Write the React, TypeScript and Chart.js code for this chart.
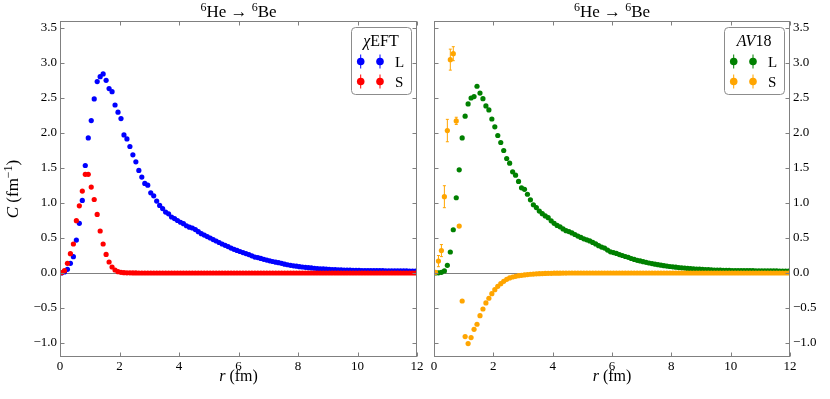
import React, { useEffect, useRef } from "react";
import { Chart, registerables } from "chart.js";

Chart.register(...registerables);

const FAMILY = '"Liberation Serif", "DejaVu Serif", serif';

// radial grid (fm)
const R = [
  0.05, 0.15, 0.25, 0.35, 0.45, 0.55, 0.65, 0.75, 0.85, 0.95,
  1.05, 1.15, 1.25, 1.35, 1.45, 1.55, 1.65, 1.75, 1.85, 1.95,
  2.05, 2.15, 2.25, 2.35, 2.45, 2.55, 2.65, 2.75, 2.85, 2.95,
  3.05, 3.15, 3.25, 3.35, 3.45, 3.55, 3.65, 3.75, 3.85, 3.95,
  4.05, 4.15, 4.25, 4.35, 4.45, 4.55, 4.65, 4.75, 4.85, 4.95,
  5.05, 5.15, 5.25, 5.35, 5.45, 5.55, 5.65, 5.75, 5.85, 5.95,
  6.05, 6.15, 6.25, 6.35, 6.45, 6.55, 6.65, 6.75, 6.85, 6.95,
  7.05, 7.15, 7.25, 7.35, 7.45, 7.55, 7.65, 7.75, 7.85, 7.95,
  8.05, 8.15, 8.25, 8.35, 8.45, 8.55, 8.65, 8.75, 8.85, 8.95,
  9.05, 9.15, 9.25, 9.35, 9.45, 9.55, 9.65, 9.75, 9.85, 9.95,
  10.05, 10.15, 10.25, 10.35, 10.45, 10.55, 10.65, 10.75, 10.85, 10.95,
  11.05, 11.15, 11.25, 11.35, 11.45, 11.55, 11.65, 11.75, 11.85, 11.95,
];

// chiEFT, L channel (blue)
const L_EFT = [
  0.0, 0.015, 0.052, 0.138, 0.233, 0.471, 0.709, 1.037, 1.536, 1.93,
  2.178, 2.487, 2.734, 2.805, 2.844, 2.753, 2.634, 2.59, 2.4, 2.297,
  2.206, 1.973, 1.916, 1.807, 1.688, 1.588, 1.465, 1.37, 1.279, 1.255,
  1.146, 1.103, 1.027, 0.965, 0.92, 0.87, 0.846, 0.8, 0.778, 0.75,
  0.725, 0.705, 0.675, 0.655, 0.643, 0.62, 0.59, 0.562, 0.542, 0.52,
  0.5, 0.478, 0.457, 0.436, 0.414, 0.395, 0.378, 0.356, 0.338, 0.322,
  0.307, 0.292, 0.277, 0.263, 0.246, 0.228, 0.22, 0.208, 0.195, 0.184,
  0.174, 0.164, 0.155, 0.147, 0.138, 0.126, 0.118, 0.11, 0.103, 0.097,
  0.091, 0.086, 0.081, 0.076, 0.072, 0.068, 0.064, 0.061, 0.058, 0.055,
  0.052, 0.05, 0.048, 0.046, 0.044, 0.042, 0.041, 0.04, 0.039, 0.038,
  0.037, 0.036, 0.036, 0.035, 0.035, 0.034, 0.034, 0.033, 0.033, 0.032,
  0.032, 0.031, 0.031, 0.03, 0.03, 0.029, 0.029, 0.028, 0.028, 0.027,
];

// chiEFT, S channel (red)
const S_EFT = [
  0.004, 0.033, 0.138, 0.276, 0.414, 0.747, 0.96, 1.17, 1.41, 1.41,
  1.227, 1.05, 0.837, 0.6, 0.414, 0.266, 0.157, 0.086, 0.043, 0.019,
  0.01, 0.005, 0.003, 0.002, 0.001, 0.001, 0.0, 0.0, 0.0, 0.0,
  0, 0, 0, 0, 0, 0, 0, 0, 0, 0,
  0, 0, 0, 0, 0, 0, 0, 0, 0, 0,
  0, 0, 0, 0, 0, 0, 0, 0, 0, 0,
  0, 0, 0, 0, 0, 0, 0, 0, 0, 0,
  0, 0, 0, 0, 0, 0, 0, 0, 0, 0,
  0, 0, 0, 0, 0, 0, 0, 0, 0, 0,
  0, 0, 0, 0, 0, 0, 0, 0, 0, 0,
  0, 0, 0, 0, 0, 0, 0, 0, 0, 0,
  0, 0, 0, 0, 0, 0, 0, 0, 0, 0,
];

// AV18, L channel (green)
const L_AV18 = [
  0.0, 0.003, 0.01, 0.03, 0.11, 0.3, 0.618, 1.075, 1.474, 1.93,
  2.24, 2.416, 2.5, 2.52, 2.668, 2.57, 2.49, 2.387, 2.33, 2.2,
  2.088, 1.964, 1.864, 1.75, 1.636, 1.569, 1.445, 1.398, 1.308, 1.217,
  1.195, 1.125, 1.045, 0.975, 0.935, 0.885, 0.848, 0.815, 0.79, 0.745,
  0.71, 0.68, 0.66, 0.63, 0.605, 0.592, 0.572, 0.55, 0.528, 0.508,
  0.488, 0.474, 0.458, 0.437, 0.415, 0.39, 0.37, 0.356, 0.328, 0.302,
  0.292, 0.279, 0.263, 0.25, 0.236, 0.224, 0.207, 0.194, 0.181, 0.172,
  0.162, 0.152, 0.143, 0.134, 0.126, 0.119, 0.112, 0.105, 0.099, 0.093,
  0.088, 0.083, 0.078, 0.074, 0.07, 0.066, 0.063, 0.06, 0.057, 0.054,
  0.051, 0.049, 0.047, 0.045, 0.043, 0.041, 0.04, 0.039, 0.038, 0.037,
  0.036, 0.036, 0.035, 0.035, 0.034, 0.034, 0.033, 0.033, 0.032, 0.032,
  0.031, 0.031, 0.03, 0.03, 0.029, 0.029, 0.028, 0.028, 0.027, 0.027,
];

// AV18, S channel (orange)
const S_AV18 = [
  0.01, 0.17, 0.32, 1.09, 2.035, 3.048, 3.133, 2.173, 0.67, -0.4,
  -0.908, -1.008, -0.922, -0.804, -0.732, -0.609, -0.514, -0.428, -0.361, -0.295,
  -0.238, -0.19, -0.152, -0.119, -0.09, -0.07, -0.057, -0.047, -0.038, -0.033,
  -0.027, -0.022, -0.018, -0.015, -0.012, -0.01, -0.008, -0.006, -0.005, -0.004,
  -0.003, -0.002, -0.002, -0.001, -0.001, 0, 0, 0, 0, 0,
  0, 0, 0, 0, 0, 0, 0, 0, 0, 0,
  0, 0, 0, 0, 0, 0, 0, 0, 0, 0,
  0, 0, 0, 0, 0, 0, 0, 0, 0, 0,
  0, 0, 0, 0, 0, 0, 0, 0, 0, 0,
  0, 0, 0, 0, 0, 0, 0, 0, 0, 0,
  0, 0, 0, 0, 0, 0, 0, 0, 0, 0,
  0, 0, 0, 0, 0, 0, 0, 0, 0, 0,
];

// AV18, S channel uncertainties (first points only)
const S_AV18_ERR = [0.02, 0.08, 0.086, 0.157, 0.16, 0.15, 0.1, 0.052, 0.02];

const X_TICKS = [0, 2, 4, 6, 8, 10, 12];
const X_TICK_LABELS = ["0", "2", "4", "6", "8", "10", "12"];
const Y_TICKS = [-1, -0.5, 0, 0.5, 1, 1.5, 2, 2.5, 3, 3.5];
const Y_TICK_LABELS = ["\u22121.0", "\u22120.5", "0.0", "0.5", "1.0", "1.5", "2.0", "2.5", "3.0", "3.5"];

const X_MIN = 0, X_MAX = 12, Y_MIN = -1.2, Y_MAX = 3.6;
const GRAY = "#808080";

type Part = { t: string; size: number; italic?: boolean; rise?: number };

const fontOf = (p: Part) => `${p.italic ? "italic " : ""}${p.size}px ${FAMILY}`;

function partsWidth(ctx: CanvasRenderingContext2D, parts: Part[]) {
  let w = 0;
  for (const p of parts) {
    ctx.font = fontOf(p);
    w += ctx.measureText(p.t).width;
  }
  return w;
}

function drawParts(ctx: CanvasRenderingContext2D, parts: Part[], cx: number, baseline: number) {
  const w = partsWidth(ctx, parts);
  let x = cx - w / 2;
  ctx.textAlign = "left";
  ctx.textBaseline = "alphabetic";
  ctx.fillStyle = "#000";
  for (const p of parts) {
    ctx.font = fontOf(p);
    ctx.fillText(p.t, x, baseline - (p.rise || 0));
    x += ctx.measureText(p.t).width;
  }
}

const TITLE: Part[] = [
  { t: "6", size: 12, rise: 6 },
  { t: "He", size: 17 },
  { t: " \u2192 ", size: 17 },
  { t: "6", size: 12, rise: 6 },
  { t: "Be", size: 17 },
];
const X_TITLE: Part[] = [
  { t: "r", size: 16, italic: true },
  { t: " (fm)", size: 16 },
];
const Y_TITLE: Part[] = [
  { t: "C", size: 17, italic: true },
  { t: " (fm", size: 17 },
  { t: "\u22121", size: 12, rise: 6 },
  { t: ")", size: 17 },
];
const LEG_EFT: Part[] = [
  { t: "\u03c7", size: 16, italic: true },
  { t: "EFT", size: 16 },
];
const LEG_AV18: Part[] = [
  { t: "AV", size: 16, italic: true },
  { t: "18", size: 16 },
];

type PanelProps = {
  width: number;
  left: number;
  side: "left" | "right";
  lData: number[];
  sData: number[];
  lColor: string;
  sColor: string;
  sErr?: number[];
  legendTitle: Part[];
};

function Panel({ width, left, side, lData, sData, lColor, sColor, sErr, legendTitle }: PanelProps) {
  const ref = useRef<HTMLCanvasElement>(null);

  useEffect(() => {
    const canvas = ref.current;
    if (!canvas) return;

    const plugin = {
      id: "mplFrame",
      beforeDatasetsDraw(chart: any) {
        const { ctx, chartArea: a, scales } = chart;
        const xs = scales.x, ys = scales.y;
        ctx.save();
        // zero line
        const y0 = Math.round(ys.getPixelForValue(0)) + 0.5;
        ctx.strokeStyle = GRAY;
        ctx.lineWidth = 1;
        ctx.beginPath();
        ctx.moveTo(a.left, y0);
        ctx.lineTo(a.right, y0);
        ctx.stroke();
        // error bars
        if (sErr) {
          ctx.strokeStyle = sColor;
          ctx.lineWidth = 1;
          for (let i = 0; i < sErr.length; i++) {
            const e = sErr[i];
            if (!e) continue;
            const px = xs.getPixelForValue(R[i]);
            const top = ys.getPixelForValue(sData[i] + e);
            const bot = ys.getPixelForValue(sData[i] - e);
            ctx.beginPath();
            ctx.moveTo(px, top);
            ctx.lineTo(px, bot);
            ctx.moveTo(px - 1.5, top);
            ctx.lineTo(px + 1.5, top);
            ctx.moveTo(px - 1.5, bot);
            ctx.lineTo(px + 1.5, bot);
            ctx.stroke();
          }
        }
        ctx.restore();
      },
      afterDraw(chart: any) {
        const { ctx, chartArea: a, scales } = chart;
        const xs = scales.x, ys = scales.y;
        ctx.save();
        // spines
        ctx.strokeStyle = GRAY;
        ctx.lineWidth = 1;
        const L = Math.round(a.left) + 0.5, Rt = Math.round(a.right) - 0.5;
        const T = Math.round(a.top) + 0.5, B = Math.round(a.bottom) - 0.5;
        ctx.strokeRect(L, T, Rt - L, B - T);
        // inward ticks
        const tl = 4;
        ctx.beginPath();
        for (const v of X_TICKS) {
          const px = Math.round(xs.getPixelForValue(v)) + 0.5;
          ctx.moveTo(px, B); ctx.lineTo(px, B - tl);
          ctx.moveTo(px, T); ctx.lineTo(px, T + tl);
        }
        for (const v of Y_TICKS) {
          const py = Math.round(ys.getPixelForValue(v)) + 0.5;
          ctx.moveTo(L, py); ctx.lineTo(L + tl, py);
          ctx.moveTo(Rt, py); ctx.lineTo(Rt - tl, py);
        }
        ctx.stroke();

        const cx = (a.left + a.right) / 2;
        // title
        drawParts(ctx, TITLE, cx, 16.5);
        // x title
        drawParts(ctx, X_TITLE, cx, 381);
        // y title (left panel only)
        if (side === "left") {
          ctx.save();
          ctx.translate(18, (a.top + a.bottom) / 2);
          ctx.rotate(-Math.PI / 2);
          drawParts(ctx, Y_TITLE, 0, 0);
          ctx.restore();
        }

        // legend
        const bw = 60, bh = 67;
        const bx = a.right - 6 - bw, by = a.top + 6;
        ctx.fillStyle = "#fff";
        ctx.strokeStyle = "#8c8c8c";
        ctx.lineWidth = 1;
        ctx.beginPath();
        (ctx as any).roundRect(Math.round(bx) + 0.5, Math.round(by) + 0.5, bw, bh, 4);
        ctx.fill();
        ctx.stroke();
        drawParts(ctx, legendTitle, bx + bw / 2, by + 19);
        const entries = [
          { color: lColor, label: "L", y: by + 34.5 },
          { color: sColor, label: "S", y: by + 54.5 },
        ];
        for (const en of entries) {
          for (const mx of [bx + 9.7, bx + 29]) {
            ctx.strokeStyle = en.color;
            ctx.lineWidth = 1;
            ctx.beginPath();
            ctx.moveTo(mx, en.y - 7);
            ctx.lineTo(mx, en.y + 7);
            ctx.stroke();
            ctx.fillStyle = en.color;
            ctx.beginPath();
            ctx.arc(mx, en.y, 3.8, 0, Math.PI * 2);
            ctx.fill();
          }
          ctx.fillStyle = "#000";
          ctx.font = `15px ${FAMILY}`;
          ctx.textAlign = "left";
          ctx.textBaseline = "alphabetic";
          ctx.fillText(en.label, bx + 44, en.y + 5);
        }
        ctx.restore();
      },
    };

    const tickFont = { family: FAMILY, size: 13 };
    const chart = new Chart(canvas, {
      type: "scatter",
      data: {
        datasets: [
          {
            label: "S",
            data: R.map((r, i) => ({ x: r, y: sData[i] })),
            backgroundColor: sColor,
            borderColor: sColor,
            pointRadius: 2.6,
            pointBorderWidth: 0,
            showLine: false,
          },
          {
            label: "L",
            data: R.map((r, i) => ({ x: r, y: lData[i] })),
            backgroundColor: lColor,
            borderColor: lColor,
            pointRadius: 2.6,
            pointBorderWidth: 0,
            showLine: false,
          },
        ],
      },
      options: {
        responsive: false,
        animation: false,
        events: [],
        layout: {
          padding: side === "left"
            ? { top: 21, right: width - 417, left: 0, bottom: 0 }
            : { top: 21, right: 0, left: 14, bottom: 0 },
        },
        plugins: {
          legend: { display: false },
          tooltip: { enabled: false },
          title: { display: false },
        },
        scales: {
          x: {
            type: "linear",
            position: "bottom",
            min: X_MIN,
            max: X_MAX,
            afterBuildTicks: (s: any) => {
              s.ticks = X_TICKS.map((v) => ({ value: v }));
            },
            afterFit: (s: any) => {
              s.height = 42;
              s.paddingLeft = 0;
              s.paddingRight = 0;
            },
            grid: { display: false, drawTicks: false },
            border: { display: false },
            ticks: {
              font: tickFont,
              color: "#000",
              padding: 2,
              maxRotation: 0,
              autoSkip: false,
              callback: (_v: any, i: number) => X_TICK_LABELS[i],
            },
          },
          y: {
            type: "linear",
            position: side,
            min: Y_MIN,
            max: Y_MAX,
            afterBuildTicks: (s: any) => {
              s.ticks = Y_TICKS.map((v) => ({ value: v }));
            },
            afterFit: (s: any) => {
              s.width = side === "left" ? 60 : 40;
              s.paddingTop = 0;
              s.paddingBottom = 0;
            },
            grid: { display: false, drawTicks: false },
            border: { display: false },
            ticks: {
              font: tickFont,
              color: "#000",
              padding: 3,
              autoSkip: false,
              callback: (_v: any, i: number) => Y_TICK_LABELS[i],
            },
          },
        },
      },
      plugins: [plugin],
    } as any);

    return () => chart.destroy();
  }, []);

  return (
    <canvas
      ref={ref}
      width={width}
      height={399}
      style={{ display: "block", position: "absolute", left, top: 0 }}
    />
  );
}

export default function App() {
  return (
    <div
      style={{
        position: "fixed",
        left: 0,
        top: 0,
        width: 830,
        height: 399,
        background: "#fff",
        overflow: "hidden",
      }}
    >
      <Panel
        width={430}
        left={0}
        side="left"
        lData={L_EFT}
        sData={S_EFT}
        lColor="#0000ff"
        sColor="#ff0000"
        legendTitle={LEG_EFT}
      />
      <Panel
        width={410}
        left={420}
        side="right"
        lData={L_AV18}
        sData={S_AV18}
        lColor="#008000"
        sColor="#ffa500"
        sErr={S_AV18_ERR}
        legendTitle={LEG_AV18}
      />
    </div>
  );
}
